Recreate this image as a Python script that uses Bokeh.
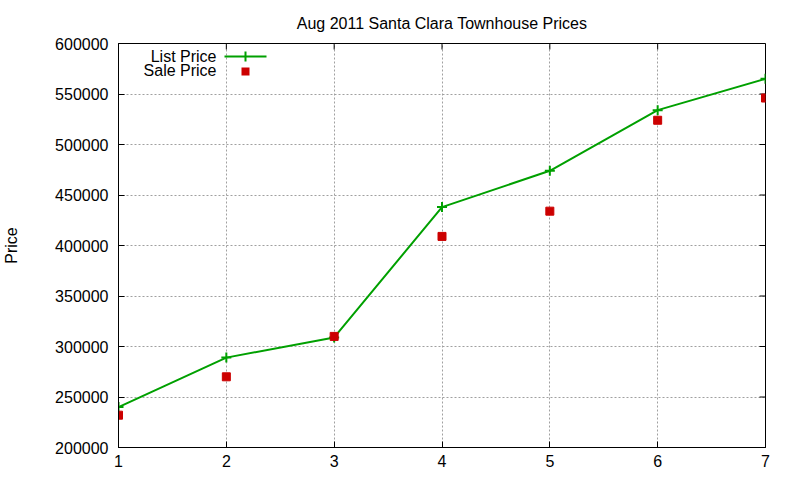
import math
from bokeh.plotting import figure
from bokeh.models import (FixedTicker, NumeralTickFormatter, Label,
                          BoxAnnotation, Range1d)
from bokeh.embed import file_html
from bokeh.resources import INLINE

# ---- data ----
months = [1, 2, 3, 4, 5, 6, 7]
list_price = [240000, 289000, 309000, 438000, 474000, 534000, 565000]
sale_price = [232000, 270000, 310000, 409000, 434000, 524000, 546000]
y_ticks = [200000, 250000, 300000, 350000, 400000, 450000, 500000, 550000, 600000]
x_ticks = [1, 2, 3, 4, 5, 6, 7]
x_min, x_max = 1, 7
y_min, y_max = 200000, 600000
title_text = "Aug 2011 Santa Clara Townhouse Prices"
y_label = "Price"
series_names = ["List Price", "Sale Price"]

GREEN = "#00a000"
RED = "#cc0000"
FONT = "Liberation Sans"
FS = "16px"

p = figure(frame_width=647, frame_height=404, output_backend="svg", toolbar_location=None,
           x_range=Range1d(x_min, x_max), y_range=Range1d(y_min, y_max),
           min_border_left=118, min_border_right=20, min_border_top=43,
           min_border_bottom=24, background_fill_color="white",
           border_fill_color="white")

p.title.text = title_text
p.title.align = "center"
p.title.text_font = FONT
p.title.text_font_size = FS
p.title.text_font_style = "normal"
p.title.text_color = "#000000"
p.title.standoff = 24

p.outline_line_color = "black"
p.outline_line_width = 1
p.outline_line_alpha = 1

# grid
for g in (p.xgrid, p.ygrid):
    g.grid_line_color = "#a0a0a0"
    g.grid_line_dash = "2 2"
    g.grid_line_width = 1
p.xgrid.ticker = FixedTicker(ticks=x_ticks)
p.ygrid.ticker = FixedTicker(ticks=y_ticks)

# axes
for ax in (p.xaxis[0], p.yaxis[0]):
    ax.axis_line_color = "black"
    ax.major_tick_in = 6
    ax.major_tick_out = 0
    ax.major_tick_line_color = "black"
    ax.minor_tick_line_color = None
    ax.major_label_text_font = FONT
    ax.major_label_text_font_size = FS
    ax.major_label_text_color = "black"
p.xaxis[0].ticker = FixedTicker(ticks=x_ticks)
p.yaxis[0].ticker = FixedTicker(ticks=y_ticks)
p.yaxis[0].formatter = NumeralTickFormatter(format="0")
p.xaxis[0].major_label_standoff = 7
p.yaxis[0].major_label_standoff = 10
p.yaxis[0].axis_label = y_label
p.yaxis[0].axis_label_text_font = FONT
p.yaxis[0].axis_label_text_font_size = FS
p.yaxis[0].axis_label_text_font_style = "normal"
p.yaxis[0].axis_label_text_color = "black"
p.yaxis[0].axis_label_standoff = 32

# mirror ticks on the right and top edges (gnuplot style)
p.ray(x=[x_max] * len(y_ticks), y=y_ticks, length=6, angle=math.pi,
      length_units="screen", line_color="black", line_width=1)
p.ray(x=x_ticks, y=[y_max] * len(x_ticks), length=6, angle=-math.pi / 2,
      length_units="screen", line_color="black", line_width=1)

# data
p.line(months, list_price, line_color=GREEN, line_width=2)
p.scatter(months, list_price, marker="cross", size=10, line_color=GREEN, line_width=2)
p.scatter(months, sale_price, marker="square", size=8, fill_color=RED, line_color=RED)

# manual gnuplot-style key (text right-aligned, sample to the right)
key_text_x = 98
row_y = [391, 377]
for name, yy in zip(series_names, row_y):
    p.add_layout(Label(x=key_text_x, y=yy, x_units="screen", y_units="screen",
                       text=name, text_align="right", text_baseline="middle",
                       text_font=FONT, text_font_size=FS, text_color="black"))

# line sample
p.add_layout(BoxAnnotation(left=106, right=148, bottom=row_y[0] - 1, top=row_y[0] + 1,
                           left_units="screen", right_units="screen",
                           bottom_units="screen", top_units="screen",
                           fill_color=GREEN, fill_alpha=1, line_color=None))
p.add_layout(BoxAnnotation(left=126, right=128, bottom=row_y[0] - 5, top=row_y[0] + 5,
                           left_units="screen", right_units="screen",
                           bottom_units="screen", top_units="screen",
                           fill_color=GREEN, fill_alpha=1, line_color=None))
# square sample
p.add_layout(BoxAnnotation(left=123, right=131, bottom=row_y[1] - 5, top=row_y[1] + 3,
                           left_units="screen", right_units="screen",
                           bottom_units="screen", top_units="screen",
                           fill_color=RED, fill_alpha=1, line_color=None))

open("out.html", "w").write(file_html(p, INLINE))
